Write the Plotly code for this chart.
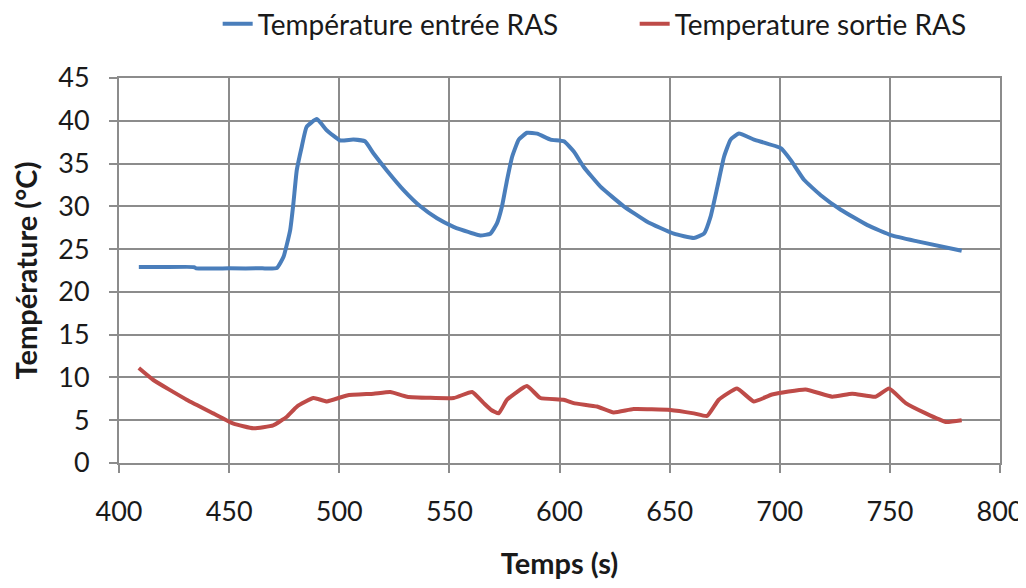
import plotly.graph_objects as go

# Température entrée RAS
t_in = [409, 420, 434, 435, 450, 465, 471.7, 474.7, 477.7, 479.2, 480.7, 483, 485.2, 489.8, 494.3, 500.4,
        506.4, 511.7, 515.5, 521.6, 529.2, 536.8, 544.4, 551.9, 555, 564, 568.6, 571.6, 573.9, 576.2,
        578.5, 581.5, 585.3, 589.9, 595.9, 602, 606.5, 611, 618.6, 629.2, 639.8, 651.9, 661, 665.6,
        668.6, 671.7, 674.7, 677.7, 681.5, 688.3, 700.5, 705, 711, 718.6, 727.7, 739.8, 750.8, 762.5, 782.6]
temp_in = [22.9, 22.9, 22.9, 22.75, 22.75, 22.75, 22.8, 24.1, 27.2, 30.4, 34.2, 37.0, 39.3, 40.2, 38.9, 37.7,
           37.8, 37.6, 36.2, 34.2, 31.9, 30.0, 28.6, 27.6, 27.3, 26.6, 26.8, 28.0, 30.0, 33.1,
           35.8, 37.8, 38.6, 38.5, 37.8, 37.6, 36.4, 34.6, 32.3, 30.0, 28.2, 26.8, 26.3, 26.8,
           28.8, 32.3, 35.8, 37.8, 38.5, 37.8, 36.8, 35.4, 33.1, 31.3, 29.6, 27.8, 26.6, 25.9, 24.8]

# Temperature sortie RAS
t_out = [409, 415.6, 430.7, 442.8, 452, 461, 470, 476.2, 480.8, 488.3, 494.4, 503.5, 515.6, 523.2, 530.8,
         552, 560.3, 565.6, 569, 572.4, 576.2, 585.2, 591.3, 601.9, 606.4, 617, 624.6, 633.6, 650.3, 661,
         667, 672.3, 680.6, 688.2, 696.5, 711.7, 723.8, 732.9, 743.5, 749.6, 757.2, 766.3, 775.4, 782.6]
temp_out = [11.1, 9.7, 7.4, 5.8, 4.6, 4.05, 4.4, 5.4, 6.6, 7.6, 7.2, 7.9, 8.1, 8.3, 7.75,
            7.6, 8.3, 7.0, 6.2, 5.8, 7.4, 9.0, 7.6, 7.4, 7.0, 6.6, 5.9, 6.3, 6.2, 5.8,
            5.5, 7.4, 8.7, 7.2, 8.0, 8.6, 7.75, 8.1, 7.75, 8.7, 7.0, 5.8, 4.8, 5.0]

x_ticks = [400, 450, 500, 550, 600, 650, 700, 750, 800]
y_ticks = [0, 5, 10, 15, 20, 25, 30, 35, 40, 45]

FONT = "Lato, 'Open Sans', sans-serif"

fig = go.Figure()
fig.add_trace(go.Scatter(x=t_in, y=temp_in, mode="lines", name="Température entrée RAS",
                         line=dict(color="#4A7EBB", width=4, shape="spline", smoothing=0.4)))
fig.add_trace(go.Scatter(x=t_out, y=temp_out, mode="lines", name="Temperature sortie RAS",
                         line=dict(color="#BE4B48", width=4, shape="spline", smoothing=0.4)))

axis_common = dict(showgrid=True, gridcolor="#8c8c8c", gridwidth=2, showline=True,
                   linecolor="#8c8c8c", linewidth=2, mirror=True, ticks="outside",
                   ticklen=8, tickcolor="#8c8c8c", tickwidth=2, zeroline=False,
                   ticklabeloverflow="allow",
                   tickfont=dict(size=27, color="#1a1a1a", family=FONT))

# page body has an 8px default margin: figure is sized to fit inside the window
fig.update_layout(
    width=1018, height=572,
    paper_bgcolor="white", plot_bgcolor="white",
    margin=dict(l=111, r=26, t=70, b=117, autoexpand=False),
    font=dict(family=FONT, color="#1a1a1a"),
    xaxis=dict(range=[400, 800], tickvals=x_ticks, ticktext=[str(v) for v in x_ticks],
               ticklabelstandoff=16,
               title=dict(text="<b>Temps (s)</b>", font=dict(size=29, family=FONT), standoff=47),
               **axis_common),
    yaxis=dict(range=[0, 45], tickvals=y_ticks, ticktext=[str(v) for v in y_ticks],
               ticklabelstandoff=14,
               title=dict(text="<b>Température (°C)</b>", font=dict(size=29, family=FONT), standoff=20),
               **axis_common),
    legend=dict(orientation="h", x=0.112, xanchor="left", y=1.14, yanchor="middle",
                font=dict(size=28, family=FONT), tracegroupgap=0, entrywidth=372),
    showlegend=True,
)

fig.write_html("out.html")
